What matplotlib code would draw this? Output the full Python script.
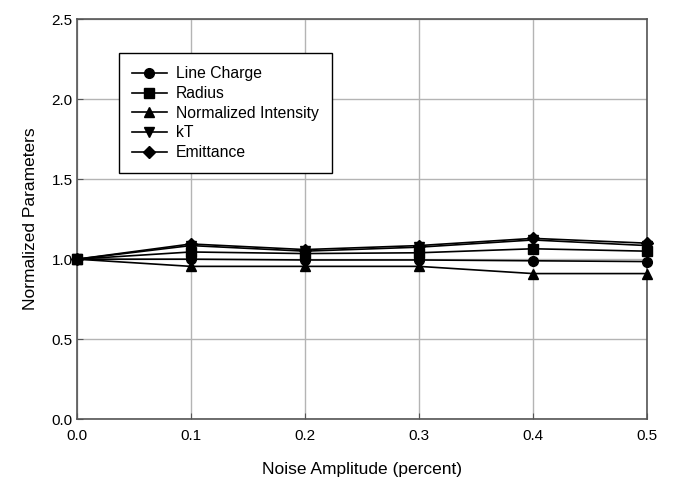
import matplotlib
matplotlib.use("Agg")
import matplotlib.pyplot as plt

plt.rcParams['font.family'] = ['Liberation Sans', 'DejaVu Sans']

noise = [0.0, 0.1, 0.2, 0.3, 0.4, 0.5]
line_charge = [1.0, 1.00, 0.995, 0.995, 0.99, 0.985]
radius = [1.0, 1.045, 1.035, 1.04, 1.065, 1.05]
norm_intensity = [1.0, 0.955, 0.955, 0.955, 0.91, 0.91]
kT = [1.0, 1.085, 1.05, 1.075, 1.12, 1.085]
emittance = [1.0, 1.095, 1.06, 1.085, 1.13, 1.10]

series = [
    ("Line Charge", line_charge, "o"),
    ("Radius", radius, "s"),
    ("Normalized Intensity", norm_intensity, "^"),
    ("kT", kT, "v"),
    ("Emittance", emittance, "D"),
]

fig = plt.figure(figsize=(6.74, 4.78), dpi=100)
ax = fig.add_axes([0.114, 0.123, 0.846, 0.837])

for i, (name, vals, mk) in enumerate(series):
    ms = 6 if mk == "D" else 7
    # line charge drawn on top, like in the original
    z = 10 if i == 0 else 3
    ax.plot(noise, vals, color="black", linewidth=1.2, marker=mk,
            markersize=ms, label=name, zorder=z, clip_on=False)

ax.set_xlim(0, 0.5)
ax.set_ylim(0, 2.5)
ax.set_xticks([0.0, 0.1, 0.2, 0.3, 0.4, 0.5])
ax.set_yticks([0.0, 0.5, 1.0, 1.5, 2.0, 2.5])
ax.set_xticklabels([f"{v:.1f}" for v in ax.get_xticks()])
ax.set_yticklabels([f"{v:.1f}" for v in ax.get_yticks()])
ax.grid(True, color="#b4b4b4", linewidth=1.0)
ax.set_axisbelow(True)
ax.tick_params(direction="in", length=4, labelsize=11, color="#555555")
ax.tick_params(axis="x", pad=7)
ax.tick_params(axis="y", pad=3)
for sp in ax.spines.values():
    sp.set_color("#555555")
    sp.set_linewidth(1.2)

ax.set_xlabel("Noise Amplitude (percent)", fontsize=12.5, labelpad=14)
ax.set_ylabel("Normalized Parameters", fontsize=12.5, labelpad=10)

leg = ax.legend(loc="upper left", bbox_to_anchor=(0.06, 0.935), fontsize=11.3,
                fancybox=False, framealpha=1, edgecolor="black",
                handlelength=2.2, handletextpad=0.6, labelspacing=0.3,
                borderpad=0.85)
leg.get_frame().set_linewidth(1.0)
leg.set_zorder(20)

fig.savefig("out.png", dpi=100)
